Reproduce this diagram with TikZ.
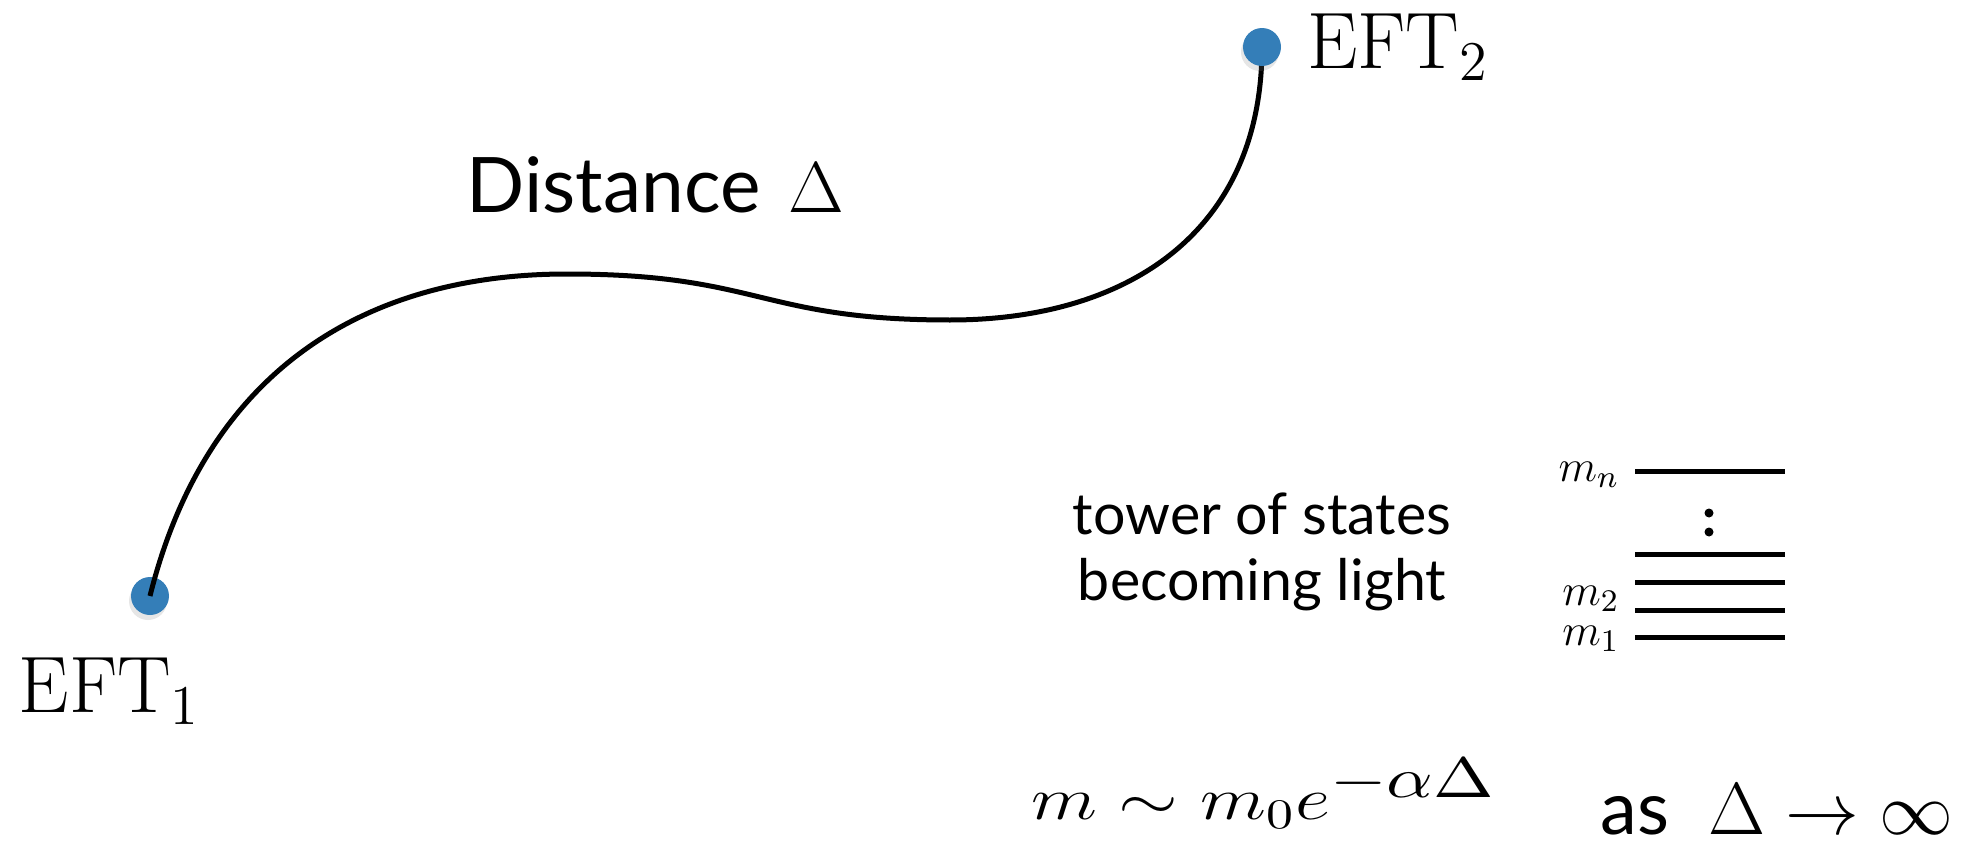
\RequirePackage{fix-cm}
\documentclass[tikz,border=0pt]{standalone}
\usepackage{fontspec}
\setsansfont{Lato}
\usepackage{graphicx}
\usetikzlibrary{positioning,shadows}
\definecolor{dotblue}{RGB}{52,126,184}

\begin{document}
\begin{tikzpicture}[x=0.1mm,y=-0.1mm,
  dot/.style={circle,fill=dotblue,inner sep=0pt,minimum size=3.8mm,
              drop shadow={shadow xshift=-0.2mm,shadow yshift=-0.5mm,opacity=0.2}},
  eft/.style={inner sep=0pt,font=\fontsize{22.8}{27}\selectfont},
  moduli/.style={line width=0.5mm},
  level/.style={line width=0.5mm},
  mlab/.style={anchor=base east,inner sep=0pt,font=\fontsize{12.8}{15}\selectfont}]
\useasboundingbox (0,0) rectangle (1980,845);
% the two theories and the path between them
\node[dot] (eft1) at (150,596) {};
\coordinate (top) at (1262,47);
\draw[moduli] (eft1.center) .. controls (205,375) and (360,274) .. (567,274)
  .. controls (760,274) and (760,320) .. (950,320)
  .. controls (1130,320) and (1262,230) .. (top);
\node[dot] (eft2) at (top) {};
\node[eft,right=25 of eft2] (eft2lab) {$\mathrm{EFT}_2$};
\node[eft,anchor=base west] (eft1lab) at (18,712) {$\mathrm{EFT}_1$};
\node[anchor=base west,inner sep=0pt,font=\sffamily\fontsize{21.8}{26}\selectfont]
  (dist) at (466,212) {Distance\hspace{8pt}{\fontsize{20.5}{24}\selectfont$\Delta$}};
% tower of light states
\node[align=center,font=\sffamily\fontsize{16.3}{19}\selectfont] (tower) at (1262,552)
  {tower of states\\becoming light};
\foreach \y in {471,554,582,610,637}
  \draw[level] (1635,\y) -- (1785,\y);
\fill (1709,513) circle (4.5) (1709,532) circle (4.5);
\node[mlab] (mn) at (1620,481) {$m_n$};
\node[mlab] (m2) at (1620,605) {$m_2$};
\node[mlab] (m1) at (1620,645) {$m_1$};
% mass formula
\node[anchor=base west,inner sep=0pt,font=\fontsize{17.1}{20}\selectfont] (decay) at (1031,819)
  {\scalebox{1.28}[1]{$m\sim m_0e^{\scalebox{1.35}{$\scriptstyle-\alpha\Delta$}}$}};
\node[anchor=base west,inner sep=0pt,font=\fontsize{21}{25}\selectfont] (limit) at (1600,834)
  {\sffamily as\hspace{11pt}$\Delta\to\infty$};
\end{tikzpicture}
\end{document}
